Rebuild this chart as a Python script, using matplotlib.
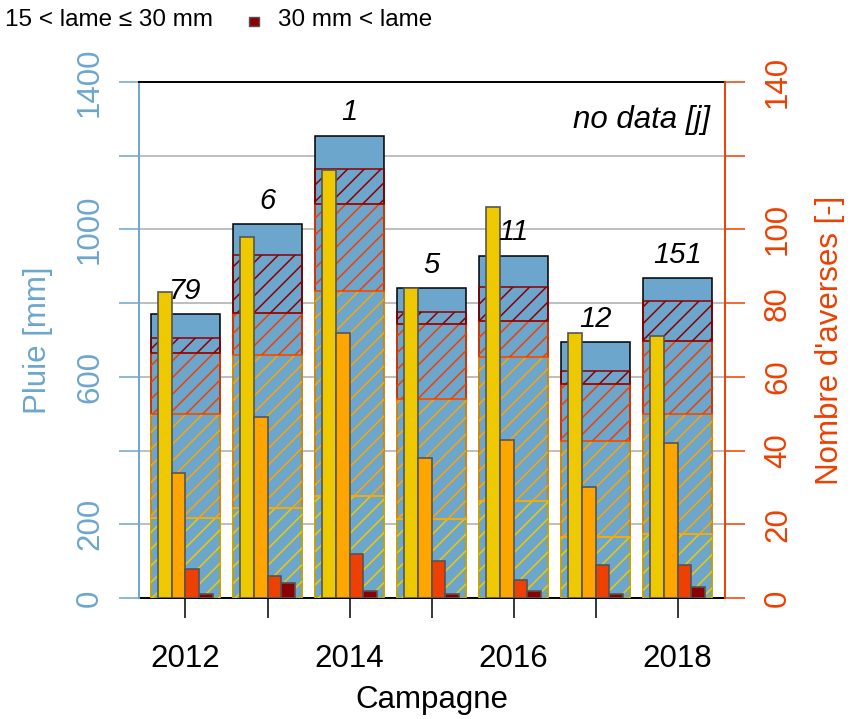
import matplotlib
matplotlib.use("Agg")
import matplotlib.pyplot as plt
import numpy as np
from matplotlib.patches import Rectangle

plt.rcParams['font.family'] = ['Liberation Sans', 'DejaVu Sans']
plt.rcParams['hatch.linewidth'] = 1.1

# --- data -------------------------------------------------------------
years = [2012, 2013, 2014, 2015, 2016, 2017, 2018]
year_labels = ['2012', '', '2014', '', '2016', '', '2018']

# total rain per campaign [mm]
pluie_totale = [770, 1014, 1254, 840, 929, 694, 867]
# rain per shower-depth class [mm]
pluie_0_5 = [216, 243, 277, 214, 264, 166, 174]
pluie_5_15 = [282, 416, 557, 326, 391, 261, 324]
pluie_15_30 = [168, 115, 234, 203, 97, 153, 199]
pluie_30_plus = [40, 157, 96, 32, 93, 36, 110]

# number of showers per class [-]
n_0_5 = [83, 98, 116, 84, 106, 72, 71]
n_5_15 = [34, 49, 72, 38, 43, 30, 42]
n_15_30 = [8, 6, 12, 10, 5, 9, 9]
n_30_plus = [1, 4, 2, 1, 2, 1, 3]

# days without data
jours_sans_donnees = [79, 6, 1, 5, 11, 12, 151]

left_ticks = [0, 200, 400, 600, 800, 1000, 1200, 1400]
left_tick_labels = ['0', '200', '', '600', '', '1000', '', '1400']
right_ticks = [0, 20, 40, 60, 80, 100, 120, 140]
right_tick_labels = ['0', '20', '40', '60', '80', '100', '', '140']

# --- styling ----------------------------------------------------------
c_blue = '#6CA6CD'
c_axis_right = '#EE4000'
class_colors = ['#EEC900', '#FFA500', '#EE4000', '#8B0000']
FS = 22.5

fig = plt.figure(figsize=(8.56, 7.19), dpi=100)
ax = fig.add_axes([139 / 856, 1 - 598 / 719, 586 / 856, 516 / 719])

x = np.arange(len(years))
bw = 0.84

# horizontal grid
for v in left_ticks[1:-1]:
    ax.axhline(v, color='#BEBEBE', lw=1.4, zorder=1)

# total rain bars
ax.bar(x, pluie_totale, width=bw, color=c_blue, edgecolor='black',
       linewidth=1.1, zorder=2)

# hatched class segments stacked inside the total
bottom = np.zeros(len(years))
for vals, col in zip([pluie_0_5, pluie_5_15, pluie_15_30, pluie_30_plus], class_colors):
    vals = np.asarray(vals, dtype=float)
    ax.bar(x, vals, bottom=bottom, width=bw, facecolor='none', edgecolor=col,
           hatch='//', linewidth=1.1, zorder=3)
    bottom += vals

ax.set_xlim(-0.567, 6.579)
ax.set_ylim(0, 1400)

# shower counts on secondary axis
ax2 = ax.twinx()
ax2.set_ylim(0, 140)
nw = bw * 0.2
for k, (vals, col) in enumerate(zip([n_0_5, n_5_15, n_15_30, n_30_plus], class_colors)):
    ax2.bar(x - 1.5 * nw + k * nw, vals, width=nw, color=col, edgecolor='#555555',
            linewidth=1.2, zorder=3)

# no-data day counts above each bar
for xi, tot, nd in zip(x, pluie_totale, jours_sans_donnees):
    ax2.annotate(str(nd), (xi, tot), xycoords=ax.transData, xytext=(0, 17),
                 textcoords='offset points', ha='center', va='center',
                 fontsize=21, style='italic', zorder=5)
ax2.text(0.974, 0.926, 'no data [j]', transform=ax.transAxes, ha='right',
         va='center', fontsize=FS, style='italic')

# spines
ax.spines['right'].set_visible(False)
ax.spines['left'].set_color(c_blue)
ax.spines['left'].set_linewidth(1.4)
ax.spines['top'].set_color('black')
ax.spines['top'].set_linewidth(1.4)
ax.spines['bottom'].set_color('black')
ax.spines['bottom'].set_linewidth(1.4)
ax.spines['bottom'].set_zorder(1.5)
for s in ['left', 'top', 'bottom']:
    ax2.spines[s].set_visible(False)
ax2.spines['right'].set_color(c_axis_right)
ax2.spines['right'].set_linewidth(1.4)

# ticks
ax.set_xticks(x)
ax.set_xticklabels(year_labels)
ax.tick_params(axis='x', length=14.4, width=1.1, labelsize=FS, pad=19,
               color='black')
ax.set_yticks(left_ticks)
ax.set_yticklabels(left_tick_labels, rotation=90, va='center')
ax.tick_params(axis='y', length=14.4, width=1.1, labelsize=FS, pad=10,
               colors=c_blue)
ax2.set_yticks(right_ticks)
ax2.set_yticklabels(right_tick_labels, rotation=90, va='center')
ax2.tick_params(axis='y', length=14.4, width=1.1, labelsize=FS, pad=13,
                colors=c_axis_right)

# axis titles
fig.text(432 / 856, 1 - 700 / 719, 'Campagne', ha='center', va='center', fontsize=FS)
fig.text(38 / 856, 1 - 340 / 719, 'Pluie [mm]', ha='center', va='center',
         rotation=90, fontsize=FS, color=c_blue)
fig.text(830 / 856, 1 - 340 / 719, "Nombre d'averses [-]", ha='center', va='center',
         rotation=90, fontsize=FS, color=c_axis_right)

# legend row
fig.text(5 / 856, 1 - 20 / 719, '15 < lame \u2264 30 mm', ha='left', va='center',
         fontsize=17.5)
fig.patches.append(Rectangle((249 / 856, 1 - 26 / 719), 10 / 856, 9 / 719,
                             transform=fig.transFigure, facecolor='#8B0000',
                             edgecolor='#555555', lw=1))
fig.text(278 / 856, 1 - 20 / 719, '30 mm < lame', ha='left', va='center',
         fontsize=17.5)

fig.savefig('out.png', dpi=100)
